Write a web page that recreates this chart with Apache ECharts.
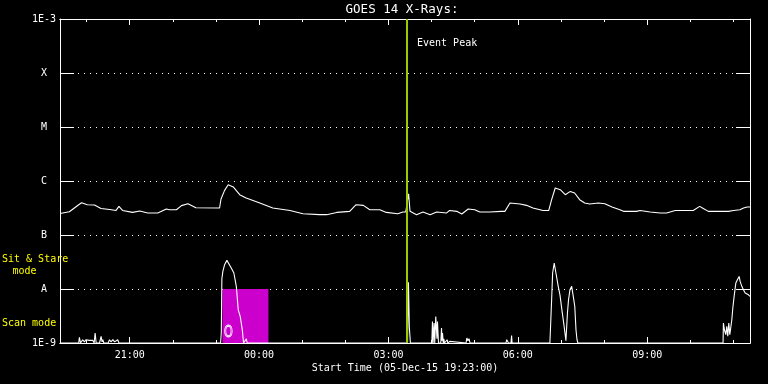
<!DOCTYPE html>
<html>
<head>
<meta charset="utf-8">
<script src="https://cdn.jsdelivr.net/npm/echarts@6/dist/echarts.min.js"></script>
<style>
  html, body { margin: 0; padding: 0; background: #000; }
  #chart { width: 768px; height: 384px; }
</style>
</head>
<body>
<div id="chart"></div>
<script>
// time is minutes after 05-Dec-15 19:00, flux in W/m^2
var longT = [23, 36, 49, 53, 61, 71, 73, 80, 92, 101, 105, 110, 124, 134, 145, 159, 171, 175, 185, 192, 201, 212, 245,
    247, 252, 257, 264, 273, 282, 301, 319, 343, 361, 384, 394, 408, 426, 435, 445, 454, 468, 477, 493, 500, 504,
    508, 510, 519, 528, 538, 547, 561, 565, 575, 582, 591, 600, 607, 621, 637, 642, 649, 663, 672, 681, 695, 703,
    707, 712, 719, 726, 728, 733, 739, 746, 753, 760, 772, 781, 791, 802, 807, 825, 830, 844, 858, 867, 879, 888,
    904, 913, 918, 925, 941, 953, 960, 969, 974, 979, 983];
var longFlux = [2.51e-7, 2.70e-7, 3.64e-7, 3.96e-7, 3.64e-7, 3.59e-7, 3.30e-7, 3.10e-7, 2.96e-7, 2.85e-7, 3.39e-7, 2.85e-7,
    2.62e-7, 2.78e-7, 2.56e-7, 2.56e-7, 3.03e-7, 2.94e-7, 2.94e-7, 3.50e-7, 3.80e-7, 3.20e-7, 3.16e-7,
    4.64e-7, 6.70e-7, 8.52e-7, 7.75e-7, 5.58e-7, 4.84e-7, 3.91e-7, 3.16e-7, 2.85e-7, 2.48e-7, 2.38e-7, 2.38e-7,
    2.62e-7, 2.74e-7, 3.64e-7, 3.54e-7, 2.94e-7, 2.94e-7, 2.62e-7, 2.48e-7, 2.67e-7, 2.67e-7,
    5.81e-7, 2.74e-7, 2.38e-7, 2.67e-7, 2.38e-7, 2.67e-7, 2.56e-7, 2.85e-7, 2.74e-7, 2.45e-7, 3.03e-7, 2.94e-7,
    2.67e-7, 2.67e-7, 2.74e-7, 2.74e-7, 3.91e-7, 3.75e-7, 3.54e-7, 3.16e-7, 2.85e-7, 2.85e-7,
    4.51e-7, 7.42e-7, 6.91e-7, 5.58e-7, 5.35e-7, 6.42e-7, 5.99e-7, 4.51e-7, 3.91e-7, 3.75e-7, 3.91e-7, 3.80e-7,
    3.30e-7, 2.94e-7, 2.74e-7, 2.74e-7, 2.85e-7, 2.67e-7, 2.56e-7, 2.56e-7, 2.85e-7, 2.85e-7,
    2.85e-7, 3.39e-7, 3.10e-7, 2.74e-7, 2.74e-7, 2.74e-7, 2.85e-7, 2.94e-7, 3.16e-7, 3.30e-7, 3.30e-7];

var shortT = [23, 49, 50, 51.5, 54.6, 57, 59, 61.6, 63.9, 66, 68.5, 70.5, 71.9, 73.3, 78, 80.2, 81.5, 82.5, 84,
    90, 91.8, 94, 96.5, 99, 101, 103.3, 105, 138, 139.1, 140.5, 151, 152.1, 153.5,
    246.4, 247.4, 248.2, 249.6, 252, 255.2, 257.9, 261.3, 264.9, 268.3, 269.1, 271, 272.4, 273.8, 275.2, 276.6,
    278.4, 281, 282.2, 283.5,
    506.5, 507.8, 509, 510.5,
    540.3, 541.2, 542.1, 543.5, 544.4, 545.8, 546.8, 547.5, 548.2, 549.6, 552.8, 553.8, 554.5, 555.2, 556.2, 557,
    558, 561.6, 562.5, 565.3, 566, 588, 589, 590.5, 592, 593.5, 643.5, 644.5, 646, 647, 650.5, 651.3, 652,
    704.6, 707, 708.4, 710.6, 713, 716.2, 718.6, 721.3, 724.1, 726.9, 728.3, 729, 730.5, 732.5, 734.9, 735.7,
    737.1, 739.2, 740.9, 742.3, 743.5, 785, 785.9, 787,
    945.5, 946, 947.4, 949.3, 950.7, 952.1, 953.5, 954.9, 956.3, 957.7, 959.1, 960.9, 963.3, 966, 967.9, 969.3,
    971.6, 973.9, 976.3, 978.6, 980.8, 983];
var shortFlux = [1e-9, 1e-9, 1.27e-9, 1e-9, 1.15e-9, 1.05e-9, 1.15e-9, 1.1e-9, 1.12e-9, 1.05e-9, 1.12e-9, 1e-9,
    1.53e-9, 1e-9, 1e-9, 1.33e-9, 1.05e-9, 1.15e-9, 1e-9,
    1e-9, 1.15e-9, 1.05e-9, 1.15e-9, 1.05e-9, 1.12e-9, 1.15e-9, 1e-9, 1e-9, 1.07e-9, 1e-9, 1e-9, 1.06e-9, 1e-9,
    1e-9, 1.55e-9, 1.53e-8, 2.12e-8, 2.82e-8, 3.39e-8, 3.24e-8, 2.45e-8, 1.98e-8, 1.12e-8, 8.4e-9, 4.1e-9, 4.1e-9,
    3.07e-9, 2.9e-9, 1.77e-9,
    1e-9, 1e-9, 1.19e-9, 1e-9,
    1e-9, 1.33e-8, 2e-9, 1e-9,
    1e-9, 2.51e-9, 1e-9, 2.34e-9, 1e-9, 3.1e-9, 3.34e-9, 1.2e-9, 2.51e-9, 1e-9, 1e-9, 1.9e-9, 1.1e-9, 1.53e-9,
    1e-9, 1.19e-9,
    1e-9, 1.15e-9, 1e-9, 1.07e-9, 1e-9, 1e-9, 1.24e-9, 1.1e-9, 1.2e-9, 1e-9, 1e-9, 1.15e-9, 1.1e-9, 1e-9, 1e-9,
    1.37e-9, 1e-9,
    1e-9, 6.3e-9, 1.98e-8, 3.03e-8, 1.98e-8, 1.12e-8, 7.8e-9, 4.1e-9, 2.18e-9, 1.1e-9, 1.15e-9, 3.6e-9, 6.3e-9,
    9.7e-9, 1.12e-8, 1.15e-8,
    7.3e-9, 4.8e-9, 1.76e-9, 1.15e-9, 1e-9, 1e-9, 1.05e-9, 1e-9,
    1e-9, 2.34e-9, 1.76e-9, 1.43e-9, 2.03e-9, 1.33e-9, 2.34e-9, 1.43e-9, 1.33e-9, 2.7e-9, 4.45e-9, 7.3e-9,
    1.29e-8, 1.53e-8, 1.71e-8, 1.38e-8,
    1.12e-8, 9.7e-9, 8.4e-9, 9e-9, 7.8e-9, 7.3e-9];

var xStart = 23, xEnd = 983;          // 19:23 .. 11:23
var xMajorMins = [120, 300, 480, 660, 840];
var xMajorLabels = ['21:00', '00:00', '03:00', '06:00', '09:00'];
var xMinorMins = [60, 120, 180, 240, 300, 360, 420, 480, 540, 600, 660, 720, 780, 840, 900, 960];
var yLabels = ['1E-9', 'A', 'B', 'C', 'M', 'X', '1E-3'];

var eventPeak = 505;                  // 03:25
var scanMode = [249, 313];            // magenta block

var font = 'DejaVu Sans Mono';

function pairs(t, v) {
    var out = [];
    for (var i = 0; i < t.length; i++) out.push([t[i], v[i]]);
    return out;
}

function xAxisCfg(pos, ticks, len, labels) {
    return {
        type: 'value', position: pos, min: xStart, max: xEnd,
        axisLine: { show: true, onZero: false, lineStyle: { color: '#fff', width: 1 } },
        axisTick: { show: true, inside: true, length: len, customValues: ticks, lineStyle: { color: '#fff' } },
        axisLabel: labels ? {
            show: true, customValues: xMajorMins, margin: 7, color: '#fff', fontFamily: font, fontSize: 10,
            formatter: function (v) { return xMajorLabels[xMajorMins.indexOf(v)]; }
        } : { show: false },
        splitLine: { show: false }
    };
}

function yAxisCfg(pos, main) {
    return {
        type: 'log', logBase: 10, min: 1e-9, max: 1e-3, interval: 1, splitNumber: 6, position: pos,
        axisLine: { show: true, lineStyle: { color: '#fff', width: 1 } },
        axisTick: { show: true, inside: true, length: 14, lineStyle: { color: '#fff' } },
        axisLabel: main ? {
            show: true, align: 'center', margin: 16, color: '#fff', fontFamily: font, fontSize: 10,
            formatter: function (v) { return yLabels[Math.round(Math.log10(v)) + 9]; }
        } : { show: false },
        splitLine: main ? { show: true, lineStyle: { color: '#fff', width: 1, type: [1, 5] } } : { show: false }
    };
}

var chart = echarts.init(document.getElementById('chart'));
var option = {
    backgroundColor: '#000',
    animation: false,
    grid: { left: 60, top: 19, width: 690, height: 324 },
    xAxis: [
        xAxisCfg('bottom', xMajorMins, 6, true),
        xAxisCfg('bottom', xMinorMins, 3, false),
        xAxisCfg('top', xMajorMins, 6, false),
        xAxisCfg('top', xMinorMins, 3, false)
    ],
    yAxis: [yAxisCfg('left', true), yAxisCfg('right', false)],
    series: [
        {
            type: 'line', data: [], z: 1,
            markArea: {
                silent: true,
                itemStyle: { color: '#cc00cc', opacity: 1 },
                data: [[{ xAxis: scanMode[0], yAxis: 1e-9 }, { xAxis: scanMode[1], yAxis: 1e-8 }]]
            }
        },
        {
            type: 'line', data: pairs(longT, longFlux), z: 3, showSymbol: false, symbol: 'none',
            lineStyle: { color: '#fff', width: 1.1 }, clip: true
        },
        {
            type: 'line', data: pairs(shortT, shortFlux), z: 3, showSymbol: false, symbol: 'none',
            lineStyle: { color: '#fff', width: 1.1 }, clip: true
        },
        {
            type: 'line', data: [], z: 4,
            markLine: {
                silent: true, symbol: 'none', label: { show: false },
                lineStyle: { color: '#99cc00', width: 2, type: 'solid' },
                data: [{ xAxis: eventPeak }]
            }
        }
    ],
    graphic: [
        { type: 'text', x: 402, y: 10, style: { text: 'GOES 14 X-Rays:', fill: '#fff', font: '12.5px ' + font, align: 'center', verticalAlign: 'middle' } },
        { type: 'text', x: 417, y: 43, style: { text: 'Event Peak', fill: '#fff', font: '10px ' + font, align: 'left', verticalAlign: 'middle' } },
        { type: 'text', x: 2, y: 259, style: { text: 'Sit & Stare', fill: '#ffff00', font: '10px ' + font, align: 'left', verticalAlign: 'middle' } },
        { type: 'text', x: 12.5, y: 271, style: { text: 'mode', fill: '#ffff00', font: '10px ' + font, align: 'left', verticalAlign: 'middle' } },
        { type: 'text', x: 2, y: 323.5, style: { text: 'Scan mode', fill: '#ffff00', font: '10px ' + font, align: 'left', verticalAlign: 'middle' } },
        { type: 'text', x: 405, y: 368, style: { text: 'Start Time (05-Dec-15 19:23:00)', fill: '#fff', font: '10px ' + font, align: 'center', verticalAlign: 'middle' } },
        { type: 'text', x: 228.5, y: 333, scaleX: 0.7, originX: 0, originY: 0, z: 10, style: { text: 'O', fill: 'none', stroke: '#fff', lineWidth: 0.9, font: '16px DejaVu Sans', align: 'center', verticalAlign: 'middle' } }
    ]
};
chart.setOption(option);
</script>
</body>
</html>
